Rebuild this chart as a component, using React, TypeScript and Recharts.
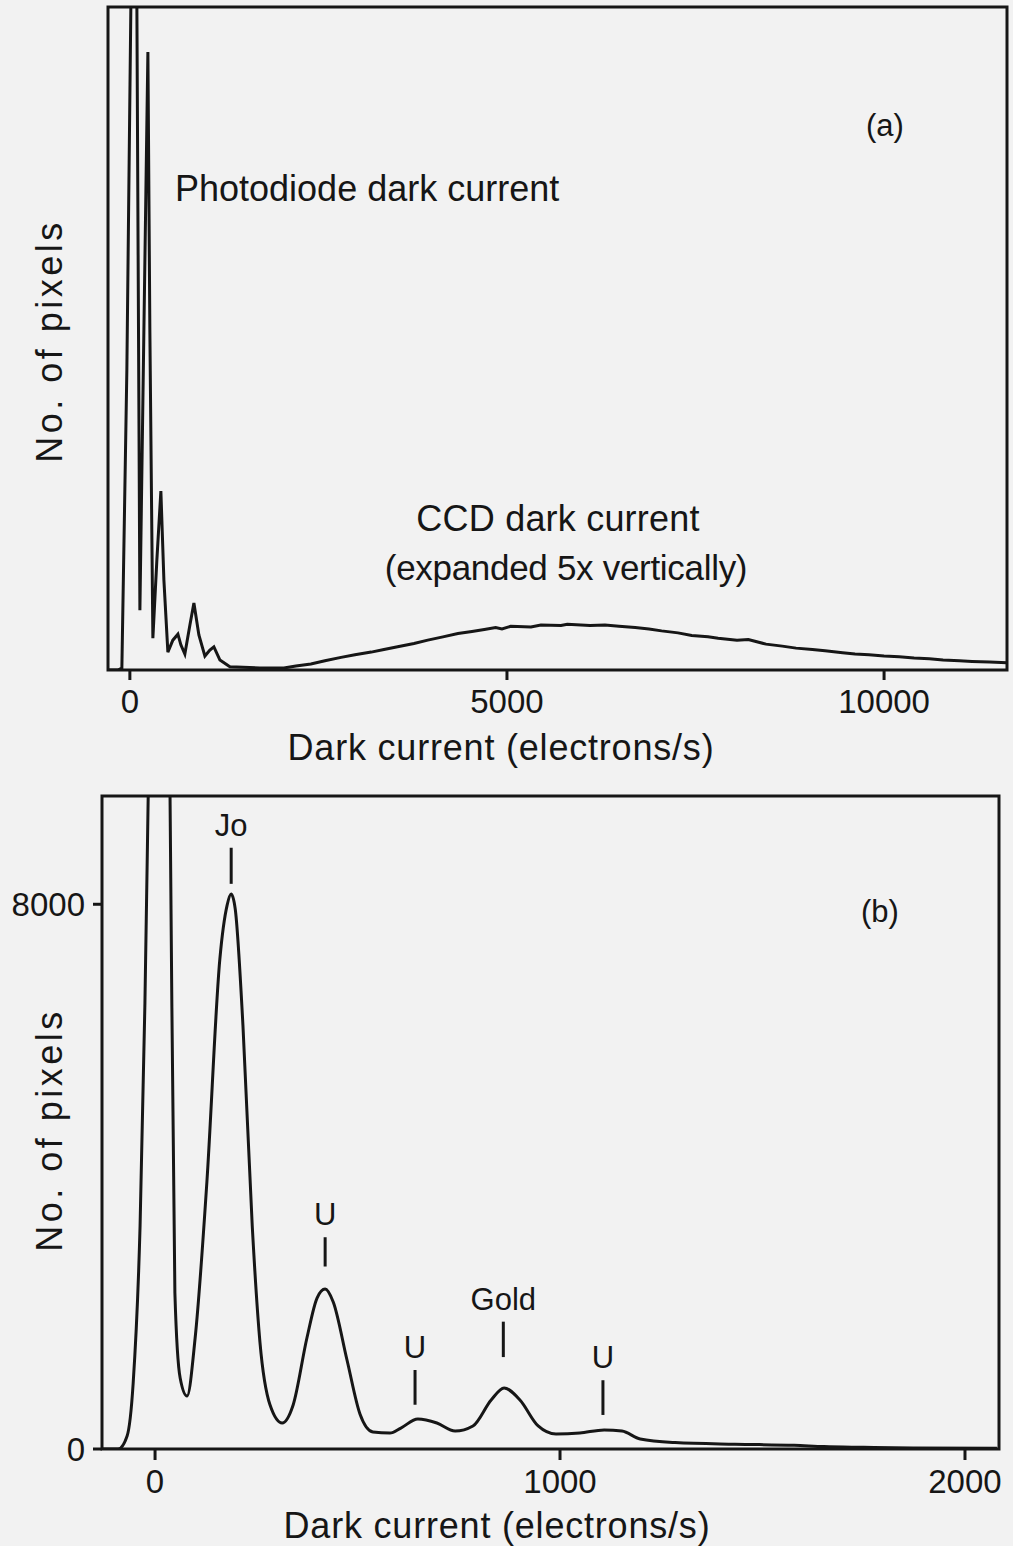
import { Line, LineChart, ReferenceArea, ReferenceLine, XAxis, YAxis } from 'recharts'

const font = '"Liberation Sans", Arial, sans-serif'
const ink = '#161616'

// (a) photodiode peaks followed by the CCD hump (expanded 5x vertically)
const aCurrent = [
  -290, -159, -106, -40, 13, 53, 93, 133, 186, 239, 265, 305, 358, 411, 451, 504, 570, 637, 676, 729, 796, 849,
  915, 995, 1061, 1114, 1194, 1326, 1500, 1724, 2042, 2202, 2400, 2586, 2800, 2984, 3200, 3369, 3550, 3767, 3950,
  4151, 4350, 4536, 4700, 4850, 4934, 5050, 5318, 5450, 5716, 5800, 6101, 6300, 6485, 6700, 6883, 7050, 7268, 7450,
  7666, 7800, 8050, 8200, 8435, 8650, 8833, 9050, 9218, 9450, 9615, 9800, 10000, 10200, 10398, 10600, 10782, 11000,
  11167, 11400, 11630,
]
const aPixels = [
  0, 0, 3, 452, 1000, 1600, 1000, 90, 513, 932, 513, 48, 166, 270, 136, 27, 45, 54, 38, 24, 68, 101,
  53, 21, 30, 35, 15, 5, 4, 3, 3, 6, 9, 14, 19, 23, 27, 31, 35, 40, 45,
  50, 55, 58, 61, 64, 62, 66, 65, 68, 67, 69, 67, 68, 66, 64, 62, 59, 56, 52,
  50, 48, 45, 46, 39, 36, 33, 31, 29, 26, 24, 23, 21, 20, 18, 17, 15, 14,
  13, 12, 11,
]
const aTicks = [0, 5000, 10000]

// (b) low end of the histogram, in pixels
const bCurrent = [
  -131, -91, -69, -54, -37, -25, -17, 10, 37, 49, 62, 79, 99, 128, 160, 178, 188, 198, 217, 240, 259, 284, 314,
  341, 375, 400, 420, 440, 474, 506, 538, 580, 607, 649, 696, 741, 785, 830, 862, 901, 946, 990, 1049, 1109, 1153,
  1198, 1284, 1432, 1578, 1652, 1750, 1872, 2079,
]
const bPixels = [
  0, 0, 191, 969, 3275, 6549, 9559, 20000, 9589, 2291, 1043, 778, 1630, 3921, 7195, 7988, 8150, 7930, 6226, 3275,
  1571, 646, 382, 646, 1630, 2217, 2349, 2159, 1307, 514, 250, 235, 308, 441, 382, 264, 338, 720, 896, 720, 338,
  220, 235, 279, 264, 147, 95, 70, 55, 35, 25, 15, 12,
]
const bTicksX = [0, 1000, 2000]
const bTicksY = [0, 8000]

// peak markers in (b)
const peakNames = ['Jo', 'U', 'U', 'Gold', 'U']
const peakAt = [188, 420, 642, 860, 1106]
const peakFrom = [8300, 2680, 650, 1350, 500]
const peakTo = [8830, 3110, 1160, 1870, 1010]

const dataA = aCurrent.map((x, i) => ({ x, y: aPixels[i] }))
const dataB = bCurrent.map((x, i) => ({ x, y: bPixels[i] }))

const tickFont = { fill: ink, fontSize: 33, fontFamily: font }
const tickLine = { stroke: ink, strokeWidth: 3 }
const txt = { fill: ink, fontSize: 36, fontFamily: font }

export default function App() {
  return (
    <div style={{ position: 'absolute', left: 0, top: 0, width: 1013, height: 1546, background: '#f2f2f2' }}>
      <div style={{ position: 'absolute', left: 0, top: 0 }}>
        <LineChart width={1013} height={780} data={dataA} margin={{ top: 7, right: 6, bottom: 0, left: 0 }}>
          <XAxis
            dataKey="x"
            type="number"
            domain={[-290, 11630]}
            allowDataOverflow
            ticks={aTicks}
            interval={0}
            height={110}
            axisLine={false}
            tickLine={tickLine}
            tickSize={10}
            tickMargin={10}
            tick={tickFont}
          />
          <YAxis type="number" domain={[0, 1000]} allowDataOverflow width={108} tick={false} tickLine={false} axisLine={false} />
          <ReferenceArea x1={-290} x2={11630} y1={0} y2={1000} fill="none" fillOpacity={0} stroke={ink} strokeWidth={3} ifOverflow="visible" />
          <Line type="linear" dataKey="y" stroke={ink} strokeWidth={3} dot={false} isAnimationActive={false} />
        </LineChart>
      </div>
      <div style={{ position: 'absolute', left: 0, top: 780 }}>
        <LineChart width={1013} height={766} data={dataB} margin={{ top: 16, right: 14, bottom: 0, left: 0 }}>
          <XAxis
            dataKey="x"
            type="number"
            domain={[-131, 2084]}
            allowDataOverflow
            ticks={bTicksX}
            interval={0}
            height={97}
            axisLine={false}
            tickLine={tickLine}
            tickSize={11}
            tickMargin={10}
            tick={tickFont}
          />
          <YAxis
            type="number"
            domain={[0, 9590]}
            allowDataOverflow
            ticks={bTicksY}
            interval={0}
            width={102}
            axisLine={false}
            tickLine={tickLine}
            tickSize={9}
            tickMargin={8}
            tick={tickFont}
          />
          <ReferenceArea x1={-131} x2={2084} y1={0} y2={9590} fill="none" fillOpacity={0} stroke={ink} strokeWidth={3} ifOverflow="visible" />
          {peakNames.map((name, i) => (
            <ReferenceLine
              key={i}
              segment={[
                { x: peakAt[i], y: peakFrom[i] },
                { x: peakAt[i], y: peakTo[i] },
              ]}
              stroke={ink}
              strokeWidth={3}
              label={{ value: name, position: 'top', offset: 12, fill: ink, fontSize: 31, fontFamily: font }}
            />
          ))}
          <Line type="monotone" dataKey="y" stroke={ink} strokeWidth={3} dot={false} isAnimationActive={false} />
        </LineChart>
      </div>
      <svg width={1013} height={1546} style={{ position: 'absolute', left: 0, top: 0, pointerEvents: 'none' }}>
        <text x={885} y={136} textAnchor="middle" {...txt} fontSize={31}>(a)</text>
        <text x={175} y={201} {...txt}>Photodiode dark current</text>
        <text x={558} y={531} textAnchor="middle" {...txt} letterSpacing={0.2}>CCD dark current</text>
        <text x={566} y={580} textAnchor="middle" {...txt} fontSize={35} letterSpacing={-0.3}>(expanded 5x vertically)</text>
        <text x={501} y={760} textAnchor="middle" {...txt} letterSpacing={0.8}>Dark current (electrons/s)</text>
        <text x={62} y={341} textAnchor="middle" transform="rotate(-90 62 341)" {...txt} letterSpacing={3.5}>No. of pixels</text>
        <text x={880} y={922} textAnchor="middle" {...txt} fontSize={31}>(b)</text>
        <text x={497} y={1538} textAnchor="middle" {...txt} letterSpacing={0.8}>Dark current (electrons/s)</text>
        <text x={62} y={1130} textAnchor="middle" transform="rotate(-90 62 1130)" {...txt} letterSpacing={3.5}>No. of pixels</text>
      </svg>
    </div>
  )
}
